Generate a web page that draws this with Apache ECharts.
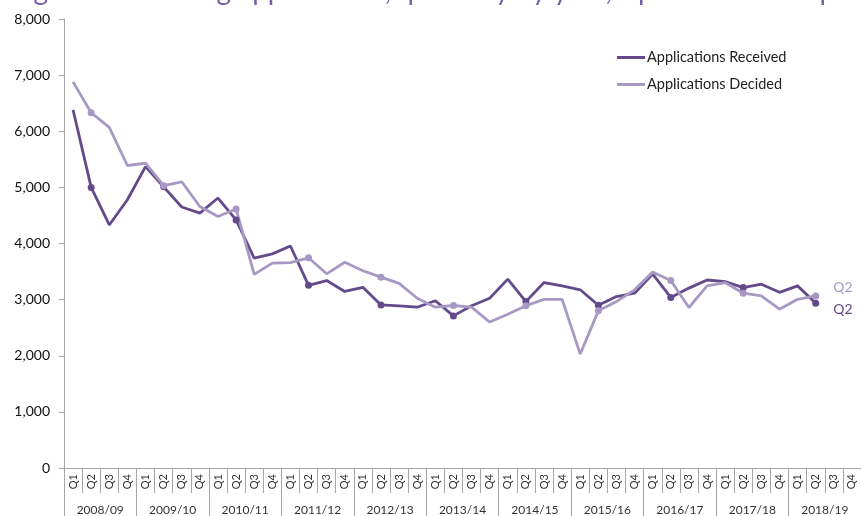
<!DOCTYPE html>
<html>
<head>
    <meta charset="utf-8">
    <title>Planning applications</title>
    <script src="https://cdn.jsdelivr.net/npm/echarts@6/dist/echarts.min.js"></script>
    <style type="text/css">
        html, body {
            margin: 0;
            padding: 0;
            background: #fff;
        }
        #main {
            width: 861px;
            height: 516px;
        }
    </style>
</head>
<body>
<div id="main"></div>
<script type="text/javascript">
    // years and quarters for the two-level x axis
    var years = ['2008/09', '2009/10', '2010/11', '2011/12', '2012/13', '2013/14',
        '2014/15', '2015/16', '2016/17', '2017/18', '2018/19'];
    var quarters = ['Q1', 'Q2', 'Q3', 'Q4'];
    var yTicks = [0, 1000, 2000, 3000, 4000, 5000, 6000, 7000, 8000];

    // values, 2008/09 Q1 .. 2018/19 Q2
    var received = [6380, 5000, 4330, 4780, 5370, 5010, 4650, 4540, 4810, 4420,
        3740, 3815, 3955, 3255, 3340, 3145, 3220, 2905, 2890, 2865,
        2980, 2710, 2890, 3025, 3365, 2965, 3305, 3245, 3175, 2900,
        3055, 3115, 3455, 3040, 3205, 3350, 3320, 3215, 3275, 3130,
        3245, 2935];
    var decided = [6880, 6330, 6070, 5390, 5430, 5030, 5100, 4660, 4480, 4615,
        3450, 3650, 3660, 3745, 3460, 3665, 3515, 3400, 3290, 3025,
        2865, 2895, 2865, 2600, 2740, 2890, 3005, 3005, 2030, 2800,
        2965, 3175, 3490, 3340, 2860, 3245, 3305, 3115, 3065, 2830,
        3005, 3065];

    var cats = [];
    years.forEach(function (y) {
        quarters.forEach(function (q) { cats.push(y + ' ' + q); });
    });

    var darkCol = '#634a8b';
    var lightCol = '#a799c3';
    var gridCol = '#a6a6a6';
    var font = 'Lato, "Open Sans", sans-serif';

    function mkSeries(name, vals, col, dy) {
        return {
            name: name,
            type: 'line',
            data: vals.map(function (v, i) {
                var item = { value: v };
                // "Q2" tag on the latest point
                if (i === vals.length - 1) {
                    item.label = {
                        show: true, position: 'right', distance: 14,
                        offset: [0, dy], color: col, fontSize: 14, fontFamily: font,
                        formatter: quarters[i % 4]
                    };
                }
                return item;
            }),
            symbol: 'circle',
            showSymbol: true,
            symbolSize: function (v, p) { return p.dataIndex % 4 === 1 ? 7 : 0; },
            lineStyle: { color: col, width: 2.8 },
            itemStyle: { color: col },
            emphasis: { disabled: true },
            animation: false
        };
    }

    var option = {
        title: {
            text: 'Figure 1: Planning applications, quarterly by year, April 2008 to September 2018',
            left: 6,
            top: -28,
            textStyle: { color: '#7a5fa8', fontSize: 28, fontWeight: 'normal', fontFamily: font }
        },
        legend: {
            left: 612,
            top: 45,
            orient: 'vertical',
            itemGap: 12,
            itemWidth: 28,
            itemHeight: 3,
            icon: 'rect',
            selectedMode: false,
            textStyle: { color: '#222', fontSize: 14.5, fontFamily: font, padding: [0, 0, 0, -3] },
            data: ['Applications Received', 'Applications Decided']
        },
        grid: { left: 64, top: 19, width: 801, height: 449 },
        xAxis: [
            {
                type: 'category',
                data: cats,
                boundaryGap: true,
                axisLine: { show: true, lineStyle: { color: gridCol } },
                axisTick: { show: true, interval: 0, length: 25, lineStyle: { color: gridCol, width: 1 } },
                axisLabel: {
                    interval: 0, rotate: 90, margin: 6,
                    color: '#333', fontSize: 11, fontFamily: font,
                    formatter: function (v) { return v.split(' ')[1]; }
                }
            },
            {
                type: 'category',
                data: years,
                position: 'bottom',
                offset: 0,
                boundaryGap: true,
                axisLine: { show: false },
                axisTick: { show: true, interval: 0, length: 60, lineStyle: { color: gridCol, width: 1 } },
                axisLabel: { interval: 0, margin: 36, color: '#333', fontSize: 12, fontFamily: font }
            }
        ],
        yAxis: {
            type: 'value',
            min: yTicks[0],
            max: yTicks[yTicks.length - 1],
            interval: 1000,
            splitLine: { show: false },
            axisLine: { show: true, lineStyle: { color: gridCol } },
            axisTick: { show: true, length: 5, lineStyle: { color: gridCol } },
            axisLabel: {
                margin: 14, color: '#111', fontSize: 14, fontFamily: font,
                formatter: function (v) { return v.toLocaleString('en-GB'); }
            }
        },
        series: [
            mkSeries('Applications Received', received, darkCol, 6),
            mkSeries('Applications Decided', decided, lightCol, -8)
        ]
    };

    var chart = echarts.init(document.getElementById('main'));
    chart.setOption(option);
</script>
</body>
</html>
